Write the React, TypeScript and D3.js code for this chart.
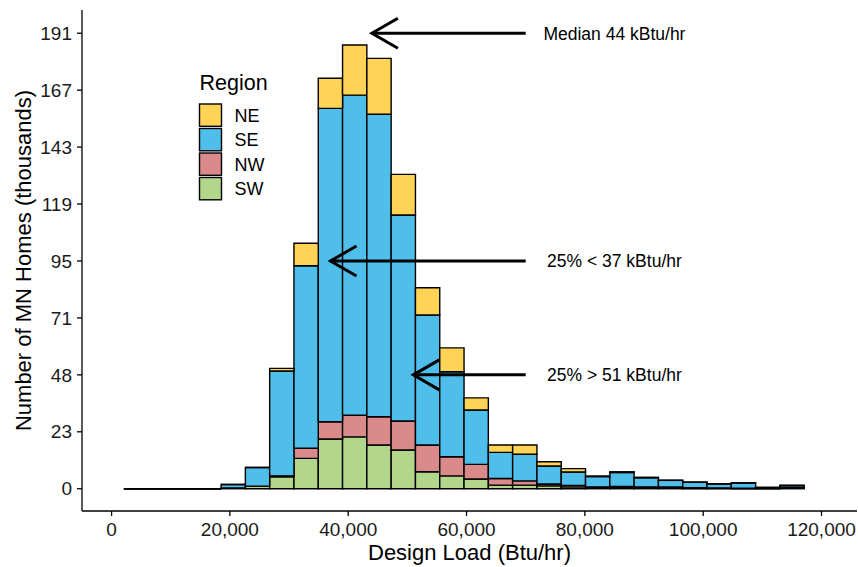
import React from 'react';
import * as d3 from 'd3';

// ---- data (thousands of homes per bin) ----
const binEdges = [2080, 6187, 10294, 14401, 18508, 22615, 26722, 30829, 34936, 39043, 43150, 47257, 51364, 55471, 59578, 63685, 67792, 71899, 76006, 80113, 84220, 88327, 92434, 96541, 100648, 104755, 108862, 112969, 117076];
const sw = [0, 0, 0, 0, 0.3, 1.1, 5.0, 12.7, 20.8, 21.7, 18.3, 16.2, 7.1, 5.4, 4.1, 1.5, 1.5, 1.2, 0.8, 0.3, 0.4, 0.2, 0.2, 0.1, 0.1, 0, 0, 0.2];
const nw = [0, 0, 0, 0, 0, 0, 0.4, 4.2, 7.2, 9.0, 11.8, 12.1, 11.2, 8.0, 6.1, 2.8, 1.8, 0.8, 0.6, 0.5, 0.6, 0.6, 0.5, 0.3, 0.2, 0.2, 0.2, 0.3];
const se = [0, 0, 0, 0, 1.5, 7.8, 43.8, 76.3, 131.0, 133.8, 126.4, 86.1, 54.3, 35.5, 22.7, 10.9, 11.1, 7.5, 5.6, 4.3, 5.8, 3.8, 2.8, 2.3, 1.7, 2.2, 0.3, 0.8];
const ne = [0, 0, 0, 0, 0, 0, 1.1, 9.4, 12.6, 21.0, 23.4, 17.0, 11.4, 10.0, 5.1, 3.1, 3.9, 1.8, 1.4, 0.2, 0.3, 0.2, 0.1, 0.1, 0.1, 0.1, 0.1, 0.2];

const legendRegions = ['NE', 'SE', 'NW', 'SW'];
const stackKeys = ['SW', 'NW', 'SE', 'NE'];
const regionColors: Record<string, string> = { NE: '#FFD355', SE: '#4FBEEA', NW: '#DA8A8A', SW: '#B2D68A' };

const xTickValues = [0, 20000, 40000, 60000, 80000, 100000, 120000];
const yTickValues = [0, 23.8, 47.6, 71.4, 95.2, 119.0, 142.8, 166.6, 190.4];
const yTickLabels = ['0', '23', '48', '71', '95', '119', '143', '167', '191'];

const annLabels = ['Median 44 kBtu/hr', '25% < 37 kBtu/hr', '25% > 51 kBtu/hr'];
const annTips = [44000, 37000, 51000];
const annY = [190.4, 95.2, 47.6];
const annTail = 70000;
const annTextX = 85000;

const FONT = '"Liberation Sans", Arial, Helvetica, sans-serif';

export default function App() {
  const W = 858, H = 567;
  const left = 82, right = 857, top = 10, bottom = 511;
  const x = d3.scaleLinear().domain([-5000, 126000]).range([left, right]);
  const y = d3.scaleLinear().domain([-9.3, 200.1]).range([bottom, top]);

  const rows = binEdges.slice(0, -1).map((e, i) => ({ x0: e, x1: binEdges[i + 1], SW: sw[i], NW: nw[i], SE: se[i], NE: ne[i] }));
  const series = d3.stack<any>().keys(stackKeys)(rows);
  const fmt = d3.format(',');

  const barPath = (x0: number, x1: number, v0: number, v1: number) => {
    const p = d3.path();
    p.moveTo(x(x0), y(v0));
    p.lineTo(x(x1), y(v0));
    p.lineTo(x(x1), y(v1));
    p.lineTo(x(x0), y(v1));
    p.closePath();
    return p.toString();
  };

  return (
    <svg width={W} height={H} style={{ position: 'absolute', left: 0, top: 0, display: 'block', background: '#fff' }} fontFamily={FONT}>
      <rect x={0} y={0} width={W} height={H} fill="#fff" />
      {/* bars */}
      {series.map((s) => (
        <g key={s.key}>
          {s.map((d, i) => (
            <path
              key={i}
              d={barPath(rows[i].x0, rows[i].x1, d[0], d[1])}
              fill={regionColors[s.key]}
              stroke="#000"
              strokeWidth={1.4}
            />
          ))}
        </g>
      ))}

      {/* axes */}
      <line x1={left} x2={left} y1={top} y2={bottom} stroke="#000" strokeWidth={1.3} />
      <line x1={left} x2={right} y1={bottom} y2={bottom} stroke="#000" strokeWidth={1.3} />
      {yTickValues.map((v, i) => (
        <g key={'y' + i}>
          <line x1={left - 5} x2={left} y1={y(v)} y2={y(v)} stroke="#000" strokeWidth={1.3} />
          <text x={left - 10} y={y(v)} dy="0.35em" textAnchor="end" fontSize={19} fill="#1a1a1a">{yTickLabels[i]}</text>
        </g>
      ))}
      {xTickValues.map((v, i) => (
        <g key={'x' + i}>
          <line x1={x(v)} x2={x(v)} y1={bottom} y2={bottom + 5} stroke="#000" strokeWidth={1.3} />
          <text x={x(v)} y={536} textAnchor="middle" fontSize={19} fill="#1a1a1a">{fmt(v)}</text>
        </g>
      ))}
      <text x={(left + right) / 2} y={560} textAnchor="middle" fontSize={22} fill="#000">Design Load (Btu/hr)</text>
      <text transform={`translate(31,${(top + bottom) / 2}) rotate(-90)`} textAnchor="middle" fontSize={22} fill="#000">Number of MN Homes (thousands)</text>

      {/* legend */}
      <text x={199.5} y={90} fontSize={21.5} fill="#000">Region</text>
      {legendRegions.map((r, i) => {
        const ky = 104 + i * 24.5;
        return (
          <g key={r}>
            <rect x={199.5} y={ky} width={22} height={22.3} fill={regionColors[r]} stroke="#000" strokeWidth={1.4} />
            <text x={234.5} y={ky + 11.2 + 6.5} fontSize={18} fill="#000">{r}</text>
          </g>
        );
      })}

      {/* annotations */}
      {annLabels.map((lab, i) => {
        const tx = x(annTips[i]);
        const ty = y(annY[i]);
        return (
          <g key={'a' + i}>
            <line x1={x(annTail)} x2={tx} y1={ty} y2={ty} stroke="#000" strokeWidth={3} />
            <polyline points={`${tx + 26},${ty - 15} ${tx},${ty} ${tx + 26},${ty + 15}`} fill="none" stroke="#000" strokeWidth={3} strokeLinejoin="miter" />
            <text x={x(annTextX)} y={ty + 6.5} textAnchor="middle" fontSize={17.5} fill="#000">{lab}</text>
          </g>
        );
      })}
    </svg>
  );
}
